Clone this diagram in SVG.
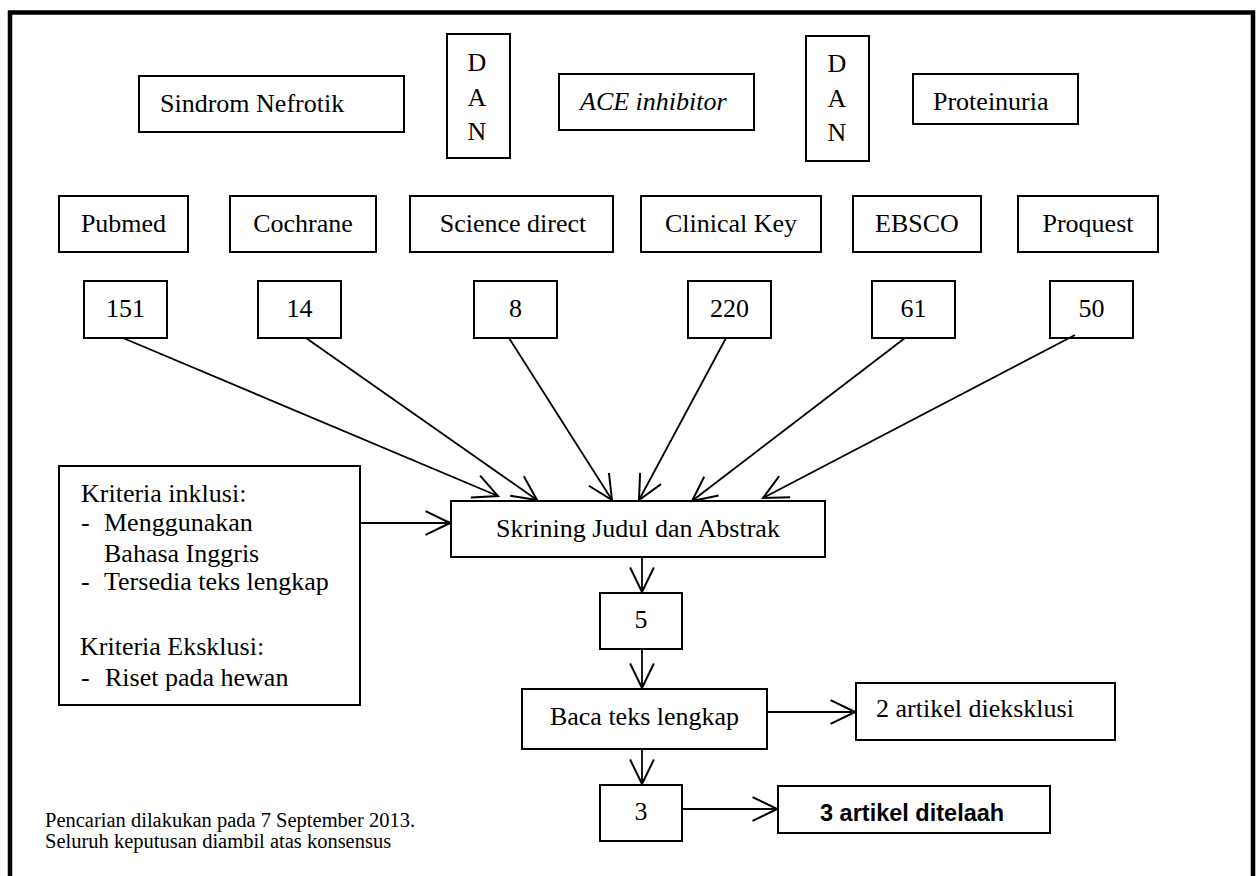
<svg xmlns="http://www.w3.org/2000/svg" width="1260" height="876" viewBox="0 0 1260 876">
<style>
.b{fill:#fff;stroke:#000;stroke-width:2}
text{font-family:"Liberation Serif","Times New Roman",serif;fill:#000}
.t{font-size:26px}
.m{text-anchor:middle}
.c{fill:none;stroke:#000;stroke-width:1.8}
</style>
<defs>
<marker id="ah" markerUnits="userSpaceOnUse" markerWidth="30" markerHeight="30" viewBox="-25 -13 27 26" refX="0" refY="0" orient="auto">
<path d="M-22,-10.7 L0,0 L-22,10.7" fill="none" stroke="#000" stroke-width="1.8"/>
</marker>
</defs>
<rect x="0" y="0" width="1260" height="876" fill="#fff"/>
<rect x="10" y="12.5" width="1243" height="900" fill="none" stroke="#000" stroke-width="4.5"/>

<g id="sindrom"><rect class="b" x="139" y="76" width="265" height="56"/><text class="t" x="160" y="112">Sindrom Nefrotik</text></g>
<g id="dan1"><rect class="b" x="447" y="34" width="63" height="124"/><text class="t m" x="477" y="71">D</text><text class="t m" x="477" y="106">A</text><text class="t m" x="477" y="140">N</text></g>
<g id="ace"><rect class="b" x="559" y="74" width="195" height="56"/><text class="t" font-style="italic" x="580" y="110">ACE inhibitor</text></g>
<g id="dan2"><rect class="b" x="806" y="36" width="63" height="125"/><text class="t m" x="837" y="72">D</text><text class="t m" x="837" y="107">A</text><text class="t m" x="837" y="141">N</text></g>
<g id="proteinuria"><rect class="b" x="913" y="74" width="165" height="50"/><text class="t" x="933" y="110">Proteinuria</text></g>

<g id="pubmed"><rect class="b" x="59" y="196" width="129" height="56"/><text class="t m" x="123.5" y="232">Pubmed</text></g>
<g id="cochrane"><rect class="b" x="230" y="196" width="146" height="56"/><text class="t m" x="303" y="232">Cochrane</text></g>
<g id="sciencedirect"><rect class="b" x="410" y="196" width="203" height="56"/><text class="t m" x="513" y="232">Science direct</text></g>
<g id="clinicalkey"><rect class="b" x="641" y="196" width="180" height="56"/><text class="t m" x="731" y="232">Clinical Key</text></g>
<g id="ebsco"><rect class="b" x="853" y="196" width="128" height="56"/><text class="t m" x="917" y="232">EBSCO</text></g>
<g id="proquest"><rect class="b" x="1018" y="196" width="140" height="56"/><text class="t m" x="1088" y="232">Proquest</text></g>

<g id="n151"><rect class="b" x="84" y="281" width="83" height="57"/><text class="t m" x="125.5" y="317">151</text></g>
<g id="n14"><rect class="b" x="258" y="281" width="83" height="57"/><text class="t m" x="299.5" y="317">14</text></g>
<g id="n8"><rect class="b" x="474" y="281" width="83" height="57"/><text class="t m" x="515.5" y="317">8</text></g>
<g id="n220"><rect class="b" x="688" y="281" width="83" height="57"/><text class="t m" x="729.5" y="317">220</text></g>
<g id="n61"><rect class="b" x="872" y="281" width="83" height="57"/><text class="t m" x="913.5" y="317">61</text></g>
<g id="n50"><rect class="b" x="1050" y="281" width="83" height="57"/><text class="t m" x="1091.5" y="317">50</text></g>

<g id="kriteria"><rect class="b" x="59" y="466" width="301" height="239"/>
<text class="t" x="81" y="502">Kriteria inklusi:</text>
<text class="t" x="81" y="531">-</text><text class="t" x="104" y="531">Menggunakan</text>
<text class="t" x="104" y="562">Bahasa Inggris</text>
<text class="t" x="81" y="590">-</text><text class="t" x="104" y="590">Tersedia teks lengkap</text>
<text class="t" x="80" y="655">Kriteria Eksklusi:</text>
<text class="t" x="81" y="686">-</text><text class="t" x="105" y="686">Riset pada hewan</text>
</g>

<g id="skrining"><rect class="b" x="451" y="501" width="374" height="56"/><text class="t m" x="638" y="537">Skrining Judul dan Abstrak</text></g>
<g id="n5"><rect class="b" x="600" y="593" width="82" height="56"/><text class="t m" x="641" y="628">5</text></g>
<g id="baca"><rect class="b" x="522" y="689" width="245" height="60"/><text class="t m" x="644.5" y="725">Baca teks lengkap</text></g>
<g id="eksklusi"><rect class="b" x="856" y="683" width="259" height="57"/><text class="t" x="876" y="717">2 artikel dieksklusi</text></g>
<g id="n3"><rect class="b" x="600" y="785" width="82" height="56"/><text class="t m" x="641" y="820">3</text></g>
<g id="ditelaah"><rect class="b" x="778" y="786" width="272" height="47"/><text x="820" y="821" style="font-family:'Liberation Sans',Arial,sans-serif" font-weight="bold" font-size="23.5">3 artikel ditelaah</text></g>

<g id="note"><text x="45" y="827" font-size="20.5">Pencarian dilakukan pada 7 September 2013.</text>
<text x="45" y="848" font-size="20.5">Seluruh keputusan diambil atas konsensus</text></g>

<g id="connectors">
<line class="c" x1="123" y1="338" x2="498" y2="496" marker-end="url(#ah)"/>
<line class="c" x1="306" y1="338" x2="537" y2="500" marker-end="url(#ah)"/>
<line class="c" x1="509" y1="338" x2="612" y2="500" marker-end="url(#ah)"/>
<line class="c" x1="726" y1="338" x2="639" y2="500" marker-end="url(#ah)"/>
<line class="c" x1="905" y1="338" x2="692" y2="501" marker-end="url(#ah)"/>
<line class="c" x1="1075" y1="335" x2="763" y2="498" marker-end="url(#ah)"/>
<line class="c" x1="360" y1="523" x2="450" y2="523" marker-end="url(#ah)"/>
<line class="c" x1="642" y1="557" x2="642" y2="592" marker-end="url(#ah)"/>
<line class="c" x1="642" y1="649" x2="642" y2="688" marker-end="url(#ah)"/>
<line class="c" x1="767" y1="712" x2="855" y2="712" marker-end="url(#ah)"/>
<line class="c" x1="642" y1="749" x2="642" y2="784" marker-end="url(#ah)"/>
<line class="c" x1="682" y1="809" x2="777" y2="809" marker-end="url(#ah)"/>
</g>
</svg>
